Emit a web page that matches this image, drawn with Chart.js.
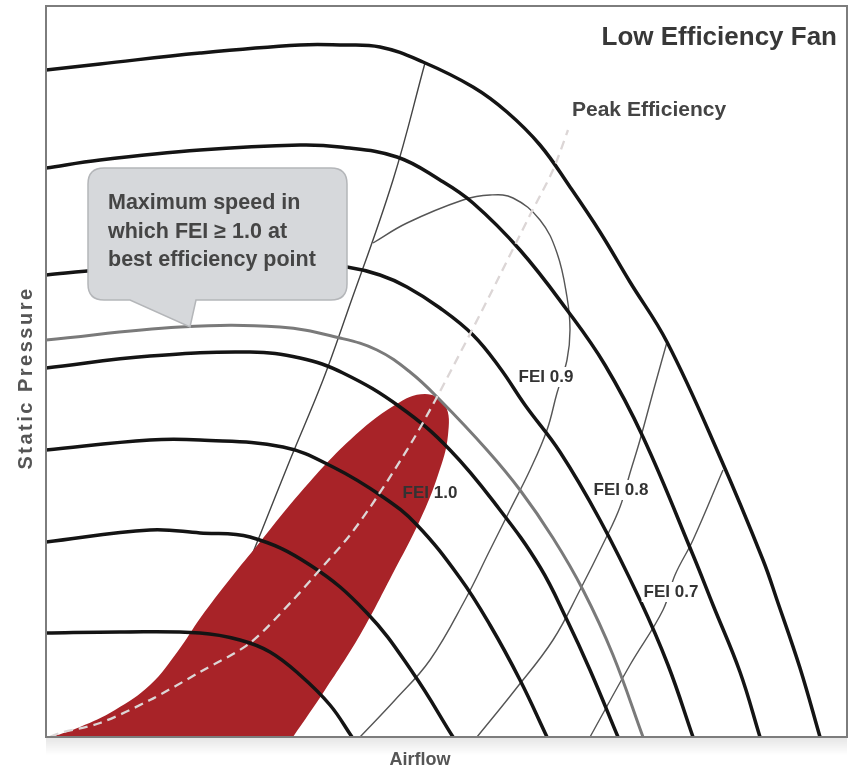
<!DOCTYPE html>
<html>
<head>
<meta charset="utf-8">
<script src="https://cdn.jsdelivr.net/npm/chart.js@4.4.0/dist/chart.umd.min.js"></script>
<style>
  body { margin: 0; background: #fff; }
  #wrap { width: 855px; height: 773px; }
</style>
</head>
<body>
<div id="wrap"><canvas id="chart"></canvas></div>
<script>
// fan speed curves, top to bottom: [airflow, static pressure]
let speed1 = [[0,667],[54,673],[154,684],[254,692],[294,692],[334,690],[377,675],[427,650],[461,625],[494,592],[524,550],[554,505],[584,455],[621,395],[674,280],[717,177],[731,137],[754,69],[774,0]];
let speed2 = [[0,569],[54,577],[154,587],[254,592],[294,590],[351,580],[394,557],[427,534],[474,487],[521,427],[559,372],[597,300],[647,182],[667,132],[694,65],[714,0]];
let speed3 = [[0,462],[54,467],[154,473],[254,474],[301,470],[334,462],[361,450],[394,429],[427,402],[454,369],[479,332],[514,285],[554,217],[594,137],[622,72],[647,0]];
let speedMax = [[0,397],[134,410],[234,410],[294,399],[331,387],[364,365],[394,337],[441,287],[474,247],[507,199],[537,147],[567,82],[597,0]];
let speed5 = [[0,369],[104,381],[204,385],[254,379],[297,364],[354,330],[404,287],[454,227],[494,170],[521,117],[544,67],[572,0]];
let speed6 = [[0,287],[104,297],[154,297],[237,290],[287,270],[337,240],[371,212],[414,159],[444,112],[474,57],[501,0]];
let speed7 = [[0,195],[104,207],[154,204],[204,200],[264,172],[321,124],[367,64],[407,0]];
let speed8 = [[0,104],[74,105],[154,104],[194,97],[224,85],[254,62],[284,32],[306,0]];

// FEI contours
let systemLine = [[194,152],[216,207],[244,277],[277,357],[301,424],[347,557],[379,674]];
let fei09 = [[327,494],[361,514],[417,537],[444,542],[467,539],[494,517],[511,484],[521,440],[524,407],[521,377],[511,344],[501,307],[484,267],[464,227],[444,187],[419,137],[384,77],[349,37],[314,0]];
let fei08 = [[621,395],[609,352],[594,297],[584,264],[574,230],[559,197],[534,147],[507,97],[469,47],[431,0]];
let fei07 = [[677,267],[647,197],[629,162],[617,127],[584,72],[544,0]];
let fei10Region = [[6,0],[34,10],[69,27],[104,52],[132,86],[155,120],[184,158],[214,195],[254,244],[304,297],[349,332],[379,343],[399,332],[402,302],[392,262],[374,217],[346,162],[314,102],[279,47],[247,0]];
let peakLine = [[4,0],[14,4],[54,14],[104,37],[154,65],[204,94],[247,137],[271,164],[304,202],[331,240],[367,297],[391,340],[424,403],[454,462],[484,522],[507,567],[522,607]];

let feiLabels = [
    { text: "FEI 1.0", at: [384,244], box: false },
    { text: "FEI 0.9", at: [500,360], box: true },
    { text: "FEI 0.8", at: [575,247], box: true },
    { text: "FEI 0.7", at: [625,145], box: true }
];
let calloutLines = ["Maximum speed in", "which FEI \u2265 1.0 at", "best efficiency point"];

function pts(arr) {
    return arr.map(p => ({ x: p[0], y: p[1] }));
}

function curve(arr, color, width, order) {
    return {
        data: pts(arr),
        showLine: true,
        borderColor: color,
        borderWidth: width,
        pointRadius: 0,
        tension: 0.4,
        fill: false,
        order: order
    };
}

let decor = {
    id: "decor",
    afterDatasetsDraw(chart) {
        let ctx = chart.ctx;
        let sx = chart.scales.x, sy = chart.scales.y;
        let px = v => sx.getPixelForValue(v);
        let py = v => sy.getPixelForValue(v);
        ctx.save();

        // callout bubble
        let l = px(42), r = px(301), t = py(569), b = py(437), rad = 16;
        ctx.beginPath();
        ctx.moveTo(l + rad, t);
        ctx.lineTo(r - rad, t);
        ctx.quadraticCurveTo(r, t, r, t + rad);
        ctx.lineTo(r, b - rad);
        ctx.quadraticCurveTo(r, b, r - rad, b);
        ctx.lineTo(px(150), b);
        ctx.lineTo(px(144), py(410));
        ctx.lineTo(px(84), b);
        ctx.lineTo(l + rad, b);
        ctx.quadraticCurveTo(l, b, l, b - rad);
        ctx.lineTo(l, t + rad);
        ctx.quadraticCurveTo(l, t, l + rad, t);
        ctx.closePath();
        ctx.fillStyle = "#d6d8db";
        ctx.fill();
        ctx.strokeStyle = "#b4b6b9";
        ctx.lineWidth = 1.5;
        ctx.stroke();

        ctx.fillStyle = "#454545";
        ctx.font = "bold 21.5px 'Liberation Sans', Arial, sans-serif";
        ctx.textBaseline = "middle";
        ctx.textAlign = "left";
        [534, 505, 477].forEach((v, i) => ctx.fillText(calloutLines[i], px(62), py(v)));

        // FEI labels
        ctx.font = "bold 17px 'Liberation Sans', Arial, sans-serif";
        ctx.textAlign = "center";
        feiLabels.forEach(f => {
            let cx = px(f.at[0]), cy = py(f.at[1]);
            let w = ctx.measureText(f.text).width;
            if (f.box) {
                ctx.fillStyle = "#fff";
                ctx.fillRect(cx - w / 2 - 2, cy - 10, w + 4, 20);
            }
            ctx.fillStyle = "#333";
            ctx.fillText(f.text, cx, cy);
        });

        ctx.font = "bold 21px 'Liberation Sans', Arial, sans-serif";
        ctx.textAlign = "left";
        ctx.fillStyle = "#444";
        ctx.fillText("Peak Efficiency", px(526), py(627));

        ctx.font = "bold 26px 'Liberation Sans', Arial, sans-serif";
        ctx.textAlign = "right";
        ctx.fillStyle = "#383838";
        ctx.fillText("Low Efficiency Fan", px(791), py(699));
        ctx.restore();
    },
    afterDraw(chart) {
        let ctx = chart.ctx, a = chart.chartArea;
        ctx.save();
        // soft shadow under the frame
        let g = ctx.createLinearGradient(0, a.bottom, 0, a.bottom + 18);
        g.addColorStop(0, "rgba(0,0,0,0.10)");
        g.addColorStop(1, "rgba(0,0,0,0)");
        ctx.fillStyle = g;
        ctx.fillRect(a.left, a.bottom + 1, a.right - a.left, 18);

        ctx.strokeStyle = "#7d7d7d";
        ctx.lineWidth = 2;
        ctx.strokeRect(a.left, a.top, a.right - a.left, a.bottom - a.top);

        ctx.fillStyle = "#555";
        ctx.font = "bold 18px 'Liberation Sans', Arial, sans-serif";
        ctx.textAlign = "center";
        ctx.textBaseline = "middle";
        ctx.fillText("Airflow", 420, a.bottom + 23);

        ctx.font = "bold 20px 'Liberation Sans', Arial, sans-serif";
        ctx.translate(a.left - 20, 378);
        ctx.rotate(-Math.PI / 2);
        ctx.letterSpacing = "2.5px";
        ctx.fillText("Static Pressure", 0, 0);
        ctx.restore();
    }
};

let ctx = document.getElementById("chart").getContext("2d");

let chart = new Chart(ctx, {
    type: "scatter",
    data: {
        datasets: [
            Object.assign(curve(peakLine, "#dcd6d6", 2.3, 0), { borderDash: [9, 6], tension: 0.3 }),
            curve(speed1, "#141414", 3.5, 1),
            curve(speed2, "#141414", 3.5, 1),
            curve(speed3, "#141414", 3.5, 1),
            curve(speed5, "#141414", 3.5, 1),
            curve(speed6, "#141414", 3.5, 1),
            curve(speed7, "#141414", 3.5, 1),
            curve(speed8, "#141414", 3.5, 1),
            curve(speedMax, "#7a7a7a", 3, 2),
            Object.assign(curve(fei10Region, "#a82328", 0, 3), { fill: "shape", backgroundColor: "#a82328", tension: 0.4 }),
            curve(systemLine, "#444", 1.4, 4),
            curve(fei09, "#555", 1.4, 4),
            curve(fei08, "#555", 1.4, 4),
            curve(fei07, "#555", 1.4, 4)
        ]
    },
    options: {
        responsive: true,
        maintainAspectRatio: false,
        animation: false,
        events: [],
        layout: { padding: { left: 46, top: 6, right: 8, bottom: 36 } },
        scales: {
            x: { type: "linear", min: 0, max: 801, display: false },
            y: { type: "linear", min: 0, max: 731, display: false }
        },
        plugins: {
            legend: { display: false },
            tooltip: { enabled: false }
        }
    },
    plugins: [decor]
});
</script>
</body>
</html>
